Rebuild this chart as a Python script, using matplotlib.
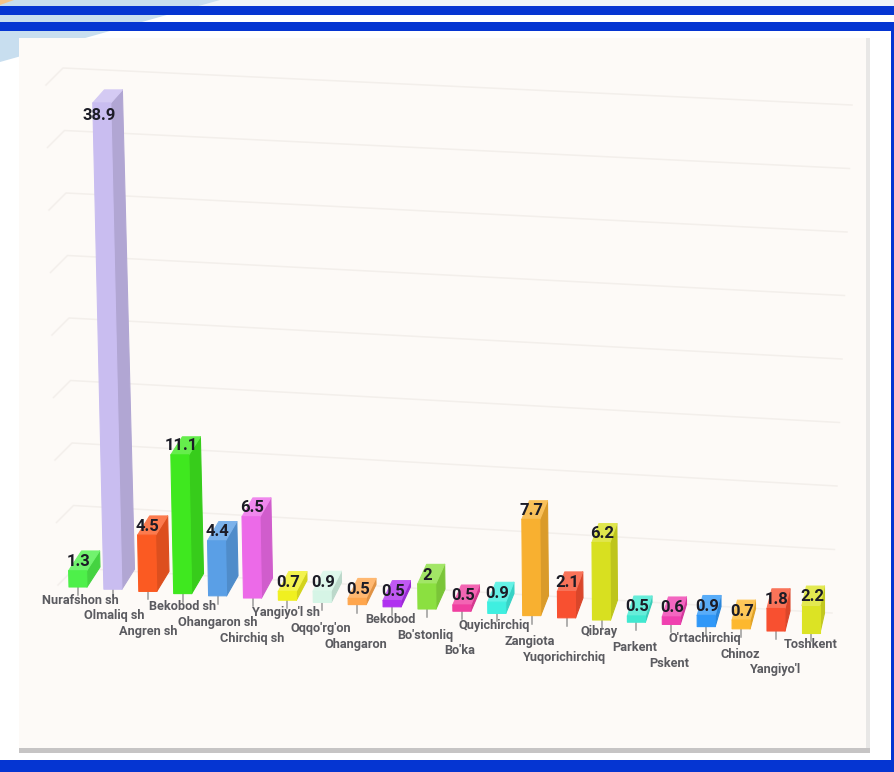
import matplotlib
matplotlib.use("Agg")
import matplotlib.pyplot as plt
from matplotlib.patches import Polygon, Rectangle
from matplotlib.colors import to_rgb

# -------------------- data --------------------
districts = ["Nurafshon sh", "Olmaliq sh", "Angren sh", "Bekobod sh", "Ohangaron sh", "Chirchiq sh",
             "Yangiyo'l sh", "Oqqo'rg'on", "Ohangaron", "Bekobod", "Bo'stonliq", "Bo'ka",
             "Quyichirchiq", "Zangiota", "Yuqorichirchiq", "Qibray", "Parkent", "Pskent",
             "O'rtachirchiq", "Chinoz", "Yangiyo'l", "Toshkent"]
values = [1.3, 38.9, 4.5, 11.1, 4.4, 6.5, 0.7, 0.9, 0.5, 0.5, 2, 0.5,
          0.9, 7.7, 2.1, 6.2, 0.5, 0.6, 0.9, 0.7, 1.8, 2.2]
bar_colors = ["#4ef04a", "#c9bdf0", "#fb5a22", "#3fe81f", "#5a9fe6", "#ec6ae8",
              "#f0f020", "#d6f5e6", "#ffa64d", "#b030f0", "#8be040", "#f03fa0",
              "#3fefe0", "#f8b030", "#f85030", "#d8e020", "#40e8d0", "#f040b0",
              "#3098f8", "#fdb82e", "#f85030", "#dce324"]
grid_values = [0, 5, 10, 15, 20, 25, 30, 35, 40]

BLUE = "#0535d2"
PX_PER_UNIT = 12.5
BAR_W = 18


def shade(color, k):
    return tuple(c * k for c in to_rgb(color))


def tint(color, k):
    return tuple(c + (1 - c) * k for c in to_rgb(color))


fig = plt.figure(figsize=(8.94, 7.72), dpi=100)
ax = fig.add_axes([0, 0, 1, 1])
ax.set_xlim(0, 894)
ax.set_ylim(772, 0)
ax.axis("off")
plt.rcParams["font.family"] = ["Roboto", "DejaVu Sans"]

# -------------------- page background --------------------
ax.add_patch(Rectangle((200, 0), 694, 6, fc="#eef4f9", ec="none", zorder=0))
ax.add_patch(Polygon([(0, 0), (220, 0), (0, 62)], fc="#c8deef", ec="none", zorder=0))
ax.add_patch(Polygon([(0, 0), (14, 0), (0, 5)], fc="#f6c488", ec="none", zorder=0))
ax.add_patch(Rectangle((0, 6), 894, 9, fc=BLUE, ec="none", zorder=1))
ax.add_patch(Rectangle((0, 22), 894, 9, fc=BLUE, ec="none", zorder=1))
ax.add_patch(Rectangle((0, 760), 894, 12, fc=BLUE, ec="none", zorder=1))
ax.add_patch(Rectangle((891, 22), 3, 750, fc=BLUE, ec="none", zorder=1))

# panel with its shadow
ax.add_patch(Rectangle((22, 38), 848, 714, fc="#e8e7e6", ec="none", zorder=1))
ax.add_patch(Rectangle((19, 748), 851, 5, fc="#c6c4c4", ec="none", zorder=1))
ax.add_patch(Rectangle((19, 38), 847, 710, fc="#fdfaf7", ec="none", zorder=2))

# -------------------- grid --------------------
for v in grid_values:
    t = v / 40
    y_left = 568 - PX_PER_UNIT * v
    x_left = 75 - 12 * t
    x_right = 832 + 20 * t
    y_right = y_left + 45 - 8 * t
    ax.plot([x_left - 17, x_left, x_right], [y_left + 17, y_left, y_right],
            color="#f3efeb", lw=1.1, zorder=3, solid_joinstyle="round")

# -------------------- bars --------------------
for i, (name, v, col) in enumerate(zip(districts, values, bar_colors)):
    h = v * PX_PER_UNIT
    x0 = 69 + 34.9 * i
    y0 = 587 + 2.2 * i
    lean = h * 0.024 * (1 - i / 21)
    dx = 13 - 0.4 * i
    dy = 20
    dx_top = dx * (1 - 0.08 * h / 490)
    dy_top = dy - 7 * h / 490
    xt = x0 - lean
    yt = y0 - h

    # leader and staggered label
    ax.plot([x0 + BAR_W / 2] * 2, [y0, y0 + 8], color="#9a9a9a", lw=1.1, zorder=4)
    t = i / 21
    label_x = 80 + 34.8 * i - 12 * t * (1 - t)
    ax.text(label_x, 600 + 2.12 * i + 13.8 * (i % 3), name, ha="center", va="center",
            fontsize=9.2, fontweight="bold", color="#5b5b60", zorder=6)

    side = [(x0 + BAR_W, y0), (x0 + BAR_W + dx, y0 - dy), (xt + BAR_W + dx_top, yt - dy_top), (xt + BAR_W, yt)]
    top = [(xt, yt), (xt + BAR_W, yt), (xt + BAR_W + dx_top, yt - dy_top), (xt + dx_top, yt - dy_top)]
    front = [(x0, y0), (x0 + BAR_W, y0), (xt + BAR_W, yt), (xt, yt)]
    for pts, fc in [(side, shade(col, 0.88)), (top, tint(col, 0.2)), (front, col)]:
        ax.add_patch(Polygon(pts, fc=fc, ec=fc, lw=0.8, joinstyle="round", zorder=5 + i * 0.001))

    # value label sits above the front face, tall bar gets it inside
    if yt < 110:
        label_xy = (xt + BAR_W / 2 - 3, yt + 13)
    else:
        label_xy = (xt + BAR_W / 2 + 1, yt - 9)
    ax.text(label_xy[0], label_xy[1], f"{v:g}", ha="center", va="center",
            fontsize=12, fontweight="bold", color="#1c1c26", zorder=7)

fig.savefig("out.png", dpi=100)
